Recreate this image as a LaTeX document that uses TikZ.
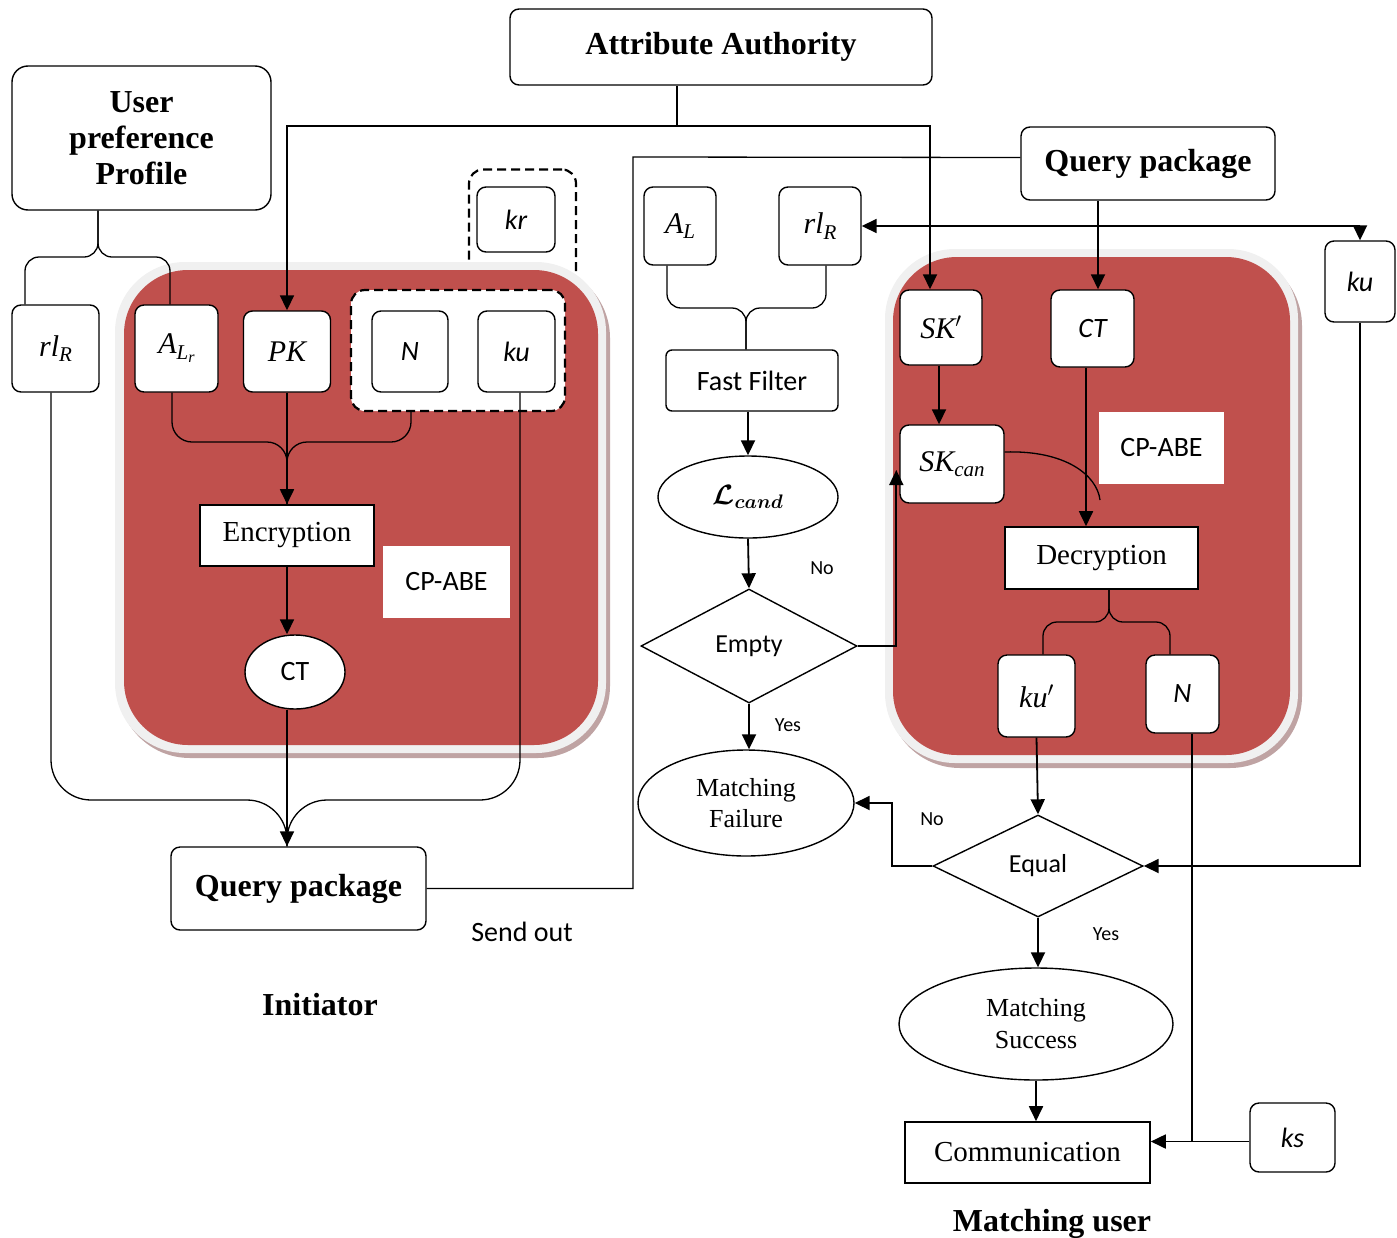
\RequirePackage{fix-cm}
\documentclass[tikz,border=0pt]{standalone}
\usepackage{fontspec}
\setmainfont{Liberation Serif}
\newfontfamily\carl{Carlito}
\usetikzlibrary{arrows.meta,shapes.geometric,calc}
\definecolor{panelred}{HTML}{C0504D}
\definecolor{panelrim}{HTML}{F0F0F0}
\definecolor{panelshadow}{HTML}{BFA3A3}
\newcommand\sbs[1]{\raisebox{-0.4ex}{\fontsize{21}{21}\selectfont #1}}
\newcommand\ssbs[1]{\raisebox{-0.35ex}{\fontsize{16}{16}\selectfont #1}}
\tikzset{
  sz/.style 2 args={minimum width=#1pt,minimum height=#2pt},
  box/.style={draw, rounded corners=9pt, fill=white, line width=1.4pt, inner sep=0pt, align=center},
  sqbox/.style={draw, fill=white, line width=1.6pt, inner sep=0pt, align=center},
  bigb/.style={font=\bfseries\fontsize{32}{36}\selectfont},
  ser/.style={font=\fontsize{29}{32}\selectfont},
  sans/.style={font=\carl\fontsize{28}{30}\selectfont},
  sansit/.style={font=\carl\itshape\fontsize{28}{30}\selectfont},
  mth/.style={font=\itshape\fontsize{30}{32}\selectfont},
  lbl/.style={font=\carl\fontsize{20}{22}\selectfont, inner sep=0pt},
  ln/.style={line width=1.3pt},
  arr/.style={line width=1.8pt, -{Triangle[length=15pt,width=14pt]}},
  dia/.style={diamond, draw, line width=1.4pt, fill=white, inner sep=0pt, aspect=2},
  ell/.style={ellipse, draw, line width=1.4pt, fill=white, inner sep=0pt, align=center},
  cpbox/.style={fill=white, inner sep=0pt, font=\carl\fontsize{28}{30}\selectfont},
  grp/.style={draw, dash pattern=on 9pt off 5pt, line width=2.2pt, rounded corners=14pt}
}
\begin{document}
\begin{tikzpicture}[x=1pt,y=-1pt]
\useasboundingbox (0,0) rectangle (1397,1237);
% kr dashed group (behind panel)
\node[grp, sz={107}{135}] (krgrp) at (522.5,237) {};
\node[box, sansit, sz={78}{65}] (kr) at (516,219.5) {kr};
% panels
\fill[panelshadow, rounded corners=72pt] (118,266) rectangle (610,758);
\fill[panelrim, rounded corners=70pt] (115,262) rectangle (606,753);
\fill[panelred, rounded corners=64pt] (124,270) rectangle (598,745);
\fill[panelshadow, rounded corners=72pt] (888,254) rectangle (1302,768);
\fill[panelrim, rounded corners=70pt] (885,249) rectangle (1298,763);
\fill[panelred, rounded corners=64pt] (893,257) rectangle (1290,755);
% left side nodes
\node[box, bigb, sz={422}{76}] (AA) at (721,47) {Attribute Authority};
\node[box, bigb, sz={259}{144}, rounded corners=16pt] (UPP) at (141.5,138) {User\\preference\\Profile};
\node[box, mth, sz={87}{87}] (rlA) at (55.5,348.5) {rl\sbs{R}};
\node[box, mth, sz={83}{87}] (ALr) at (176.5,348.5) {A\sbs{L\ssbs{r}}};
\node[box, mth, sz={87}{81}] (PK) at (287,351.5) {PK};
\node[grp, fill=white, sz={214}{121}] (Ngrp) at (458,350.5) {};
\node[box, sansit, sz={76}{81}] (N1) at (410,351.5) {N};
\node[box, sansit, sz={77}{81}] (ku1) at (516.5,351.5) {ku};
\node[sqbox, ser, sz={174}{61}] (Enc) at (287,535.5) {Encryption};
\node[cpbox, sz={127}{72}] (cp1) at (446.5,582) {CP-ABE};
\node[ell, sans, sz={100}{74}] (CT1) at (295,672) {CT};
\node[box, bigb, sz={255}{83}] (QP1) at (298.5,888.5) {Query package};
\node[sans] (send) at (522,932) {Send out};
\node[bigb] (init) at (320,1005) {Initiator};
% right side nodes
\node[box, bigb, sz={254}{73}] (QP2) at (1148,163.5) {Query package};
\node[box, mth, sz={72}{78}] (AL) at (680,226) {A\sbs{L}};
\node[box, mth, sz={82}{78}] (rlB) at (820,226) {rl\sbs{R}};
\node[box, sans, rounded corners=6pt, sz={172}{61}] (FF) at (752,380.5) {Fast Filter};
\node[ell, font=\boldmath\fontsize{28}{30}\selectfont, sz={180}{82}] (Lc) at (748,497) {$\mathcal{L}_{cand}$};
\node[dia, font=\carl\fontsize{26}{28}\selectfont, sz={216}{114}] (Empty) at (749,646) {Empty};
\node[lbl] (no1) at (822,568) {No};
\node[lbl] (yes1) at (788,725) {Yes};
\node[ell, font=\fontsize{26}{31}\selectfont, sz={216}{106}] (MF) at (746,803) {Matching\\Failure};
\node[box, mth, sz={82}{75}] (SKp) at (941,327.5) {SK$'$};
\node[box, sansit, sz={83}{77}] (CT2) at (1092.5,328.5) {CT};
\node[box, mth, sz={104}{78}] (SKc) at (952,464) {SK\sbs{can}};
\node[cpbox, sz={125}{72}] (cp2) at (1161.5,448) {CP-ABE};
\node[sqbox, ser, sz={193}{62}] (Dec) at (1101.5,558) {Decryption};
\node[box, mth, sz={77}{82}] (kup) at (1036.5,696) {ku$'$};
\node[box, sansit, sz={73}{78}] (N2) at (1182.5,694) {N};
\node[dia, font=\carl\fontsize{26}{28}\selectfont, sz={210}{102}] (Equal) at (1038,866) {Equal};
\node[lbl] (no2) at (932,819) {No};
\node[lbl] (yes2) at (1106,934) {Yes};
\node[ell, font=\fontsize{26}{32}\selectfont, sz={274}{112}] (MS) at (1036,1024) {Matching\\Success};
\node[sqbox, ser, sz={245}{61}] (Comm) at (1027.5,1152.5) {Communication};
\node[box, sansit, sz={85}{69}] (ks) at (1292.5,1137.5) {ks};
\node[box, sansit, sz={70}{81}] (ku3) at (1360,281.5) {ku};
\node[bigb] (MU) at (1052,1224) {Matching user};
% connectors
\coordinate (aaj) at (677,126);
\draw[ln] (aaj |- AA.south) -- (aaj);
\draw[arr] (aaj) -| (PK.north);
\draw[arr] (aaj) -| ([xshift=-11pt]SKp.north);
\draw[ln] (QP1.east) -| (633,157) -- ([yshift=6pt]QP2.west);
\draw[arr] ([xshift=-50pt]QP2.south) -- ([xshift=-50pt]QP2.south |- CT2.north);
\draw[line width=1.8pt, {Triangle[length=15pt,width=14pt]}-{Triangle[length=15pt,width=14pt]}] (rlB.east) -| (ku3.north);
\draw[arr] (ku3.south) |- (Equal.east);
\coordinate (upj) at (98,257);
\draw[ln, rounded corners=14pt] ([xshift=-30.5pt]rlA.north) |- (upj) -- (upj |- UPP.south);
\draw[ln, rounded corners=14pt] ([xshift=-6.5pt]ALr.north) |- (upj) -- (upj |- UPP.south);
\coordinate (encj) at (287,442);
\draw[ln, rounded corners=20pt] ([xshift=-4.5pt]ALr.south) |- (encj) -- (encj |- Enc.north);
\draw[ln, rounded corners=20pt] ([xshift=-47pt]Ngrp.south) |- (encj) -- (encj |- Enc.north);
\draw[arr] (PK.south) -- (Enc.north);
\draw[arr] (Enc.south) -- (Enc.south |- CT1.north);
\draw[arr] (Enc.south |- CT1.south) -- (Enc.south |- QP1.north);
\coordinate (qpj) at (287,800);
\draw[ln, rounded corners=40pt] ([xshift=-4.5pt]rlA.south) |- (qpj) -- (qpj |- QP1.north);
\draw[ln, rounded corners=40pt] ([xshift=3.5pt]ku1.south) |- (qpj) -- (qpj |- QP1.north);
\coordinate (ffj) at (746,308);
\draw[ln, rounded corners=14pt] ([xshift=-13pt]AL.south) |- (ffj) -- (ffj |- FF.north);
\draw[ln, rounded corners=14pt] ([xshift=6pt]rlB.south) |- (ffj) -- (ffj |- FF.north);
\draw[arr] (Lc.north |- FF.south) -- (Lc.north);
\draw[arr] (Lc.south) -- (Empty.north);
\draw[arr] (Empty.east) -| ([xshift=-3pt,yshift=-6pt]SKc.west);
\draw[arr] (Empty.south) -- (Empty.south |- MF.north);
\draw[arr] ([xshift=-2pt]SKp.south) -- ([xshift=-2pt]SKp.south |- SKc.north);
\draw[arr] ([xshift=-6.5pt]CT2.south) -- ([xshift=-6.5pt]CT2.south |- Dec.north);
\draw[ln] ([yshift=12pt]SKc.east) .. controls (1065,450) and (1097,475) .. (1100,500);
\coordinate (decj) at (1109,622);
\draw[ln, rounded corners=14pt] ([xshift=6.5pt]kup.north) |- (decj) -- (decj |- Dec.south);
\draw[ln, rounded corners=14pt] ([xshift=-12.5pt]N2.north) |- (decj) -- (decj |- Dec.south);
\draw[arr] (kup.south) -- (Equal.north);
\draw[arr] (Equal.west) -- ++(-40,0) |- (MF.east);
\draw[arr] (Equal.south) -- (Equal.south |- MS.north);
\draw[arr] (MS.south) -- (MS.south |- Comm.north);
\coordinate (ksl) at ([yshift=-4pt]ks.west);
\draw[arr] (ksl) -- (ksl -| Comm.east);
\coordinate (n2b) at ([xshift=9.5pt]N2.south);
\draw[ln] (n2b) -- (n2b |- ksl);
\end{tikzpicture}
\end{document}
